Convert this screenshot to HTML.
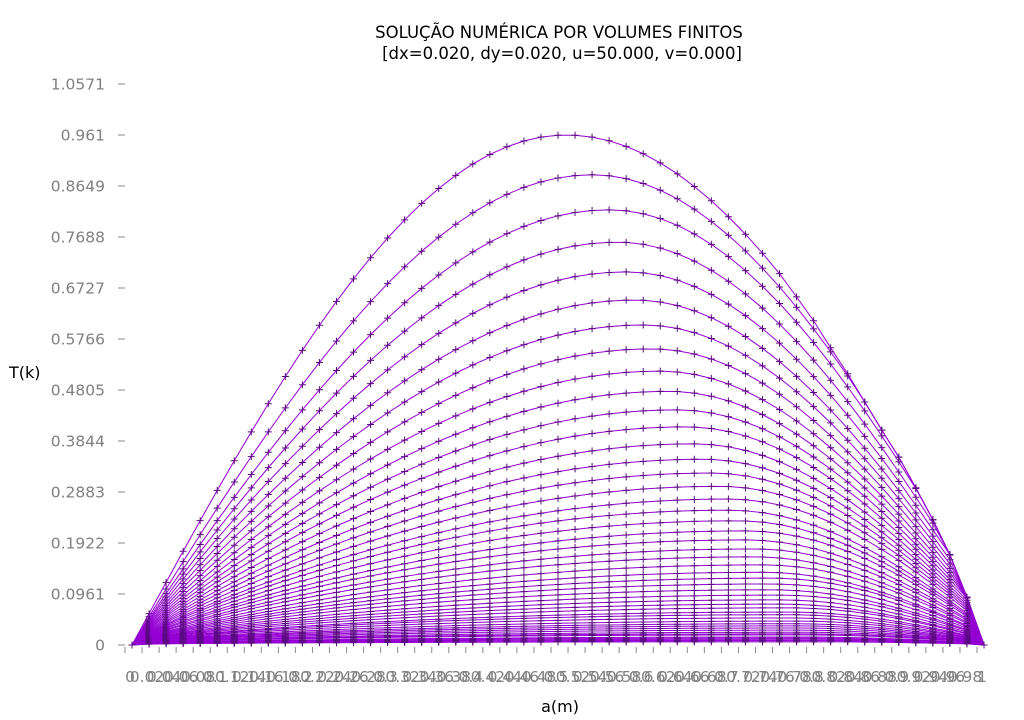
<!DOCTYPE html>
<html><head><meta charset="utf-8"><style>
html,body{margin:0;padding:0;background:#fff;}
svg{display:block;font-family:"DejaVu Sans","Liberation Sans",sans-serif;}
</style></head><body>
<svg id="chart" width="1024" height="720">
<text x="559" y="38" text-anchor="middle" font-size="16.5">SOLUÇÃO NUMÉRICA POR VOLUMES FINITOS</text>
<text x="562" y="59" text-anchor="middle" font-size="16.5">[dx=0.020, dy=0.020, u=50.000, v=0.000]</text>
<text x="9" y="378" font-size="16">T(k)</text>
<text x="560" y="712" text-anchor="middle" font-size="16">a(m)</text>
<g id="yaxis"></g>
<g id="xaxis"></g>
<g id="series"></g>
</svg>
<script>
const yTicks=[0,0.0961,0.1922,0.2883,0.3844,0.4805,0.5766,0.6727,0.7688,0.8649,0.961,1.0571];
const xTickLabels=["0","0.02","0.04","0.06","0.08","0.1","0.12","0.14","0.16","0.18","0.2","0.22","0.24","0.26","0.28","0.3","0.32","0.34","0.36","0.38","0.4","0.42","0.44","0.46","0.48","0.5","0.52","0.54","0.56","0.58","0.6","0.62","0.64","0.66","0.68","0.7","0.72","0.74","0.76","0.78","0.8","0.82","0.84","0.86","0.88","0.9","0.92","0.94","0.96","0.98","1"];
const peakValues=[0.961,0.886,0.820,0.759,0.703,0.650,0.603,0.558,0.516,0.478,0.443,0.411,0.379,0.350,0.324,0.299,0.275,0.254,0.234,0.215,0.198,0.181,0.166,0.151,0.137,0.126,0.115,0.104,0.094,0.085,0.077,0.070,0.062,0.057,0.051,0.045,0.040,0.036,0.032,0.028,0.024,0.021,0.019,0.015,0.013,0.011,0.009,0.008,0.006];
const peakPositions=[0.51,0.54,0.56,0.57,0.58,0.59,0.60,0.61,0.62,0.63,0.64,0.65,0.66,0.67,0.68,0.69,0.70,0.70,0.71,0.72,0.72,0.73,0.73,0.74,0.74,0.75,0.75,0.75,0.76,0.76,0.76,0.77,0.77,0.77,0.77,0.78,0.78,0.78,0.78,0.78,0.79,0.79,0.79,0.79,0.79,0.80,0.80,0.80,0.80];
// right-side envelope values for x = 0.78 ... 1.0
const envelopeValues=[0.656,0.611,0.560,0.511,0.458,0.405,0.354,0.296,0.236,0.170,0.090,0];
const xs=xTickLabels.map(Number);
const X=v=>132+v*852, Y=v=>645-v*530.7;
const NS="http://www.w3.org/2000/svg";
function mk(t,a,p){const e=document.createElementNS(NS,t);for(const k in a)e.setAttribute(k,a[k]);p.appendChild(e);return e;}
const ya=document.getElementById('yaxis'),xa=document.getElementById('xaxis'),sg=document.getElementById('series');
yTicks.forEach(v=>{
 const l=mk('line',{x1:118,x2:125,y1:Y(v),y2:Y(v),stroke:'#888'},ya);
 
 
 const t=mk('text',{x:105,y:Y(v)+5.5,'text-anchor':'end','font-size':15.5,fill:'#808080'},ya);
 t.textContent=String(v);
 
 
});
xTickLabels.forEach((s,i)=>{
 const x=X(xs[i])-7;
 const l=mk('line',{x1:x,x2:x,y1:647,y2:653,stroke:'#888'},xa);
 
 
 const t=mk('text',{x:x+5,y:682,'text-anchor':'middle','font-size':15.5,fill:'#808080'},xa);
 t.textContent=s;
 
 
});
const envStart=xs.length-envelopeValues.length;
peakValues.forEach((A,k)=>{
 const p=peakPositions[k];
 const q=1-0.6*k/peakValues.length;
 const pts=xs.map((x,i)=>{
  let v;
  if(x<=p) v=A*Math.pow(Math.sin(Math.PI/2*x/p),q);
  else v=A*Math.sin(Math.PI/2*Math.max(0,(1.03-x))/(1.03-p));
  if(i>=envStart) v=Math.min(v,envelopeValues[i-envStart]);
  return [X(x),Y(v)];
 });
 const pl=mk('polyline',{points:pts.map(a=>a.join(',')).join(' '),fill:'none',stroke:'#9400d3','stroke-width':1},sg);
 
 
 let d='';
 pts.forEach(([x,y])=>{d+=`M${x-3.5},${y}h7M${x},${y-3.5}v7`;});
 const m=mk('path',{d:d,stroke:'#5a0a80','stroke-width':1},sg);
 
 
});
</script>
</body></html>
